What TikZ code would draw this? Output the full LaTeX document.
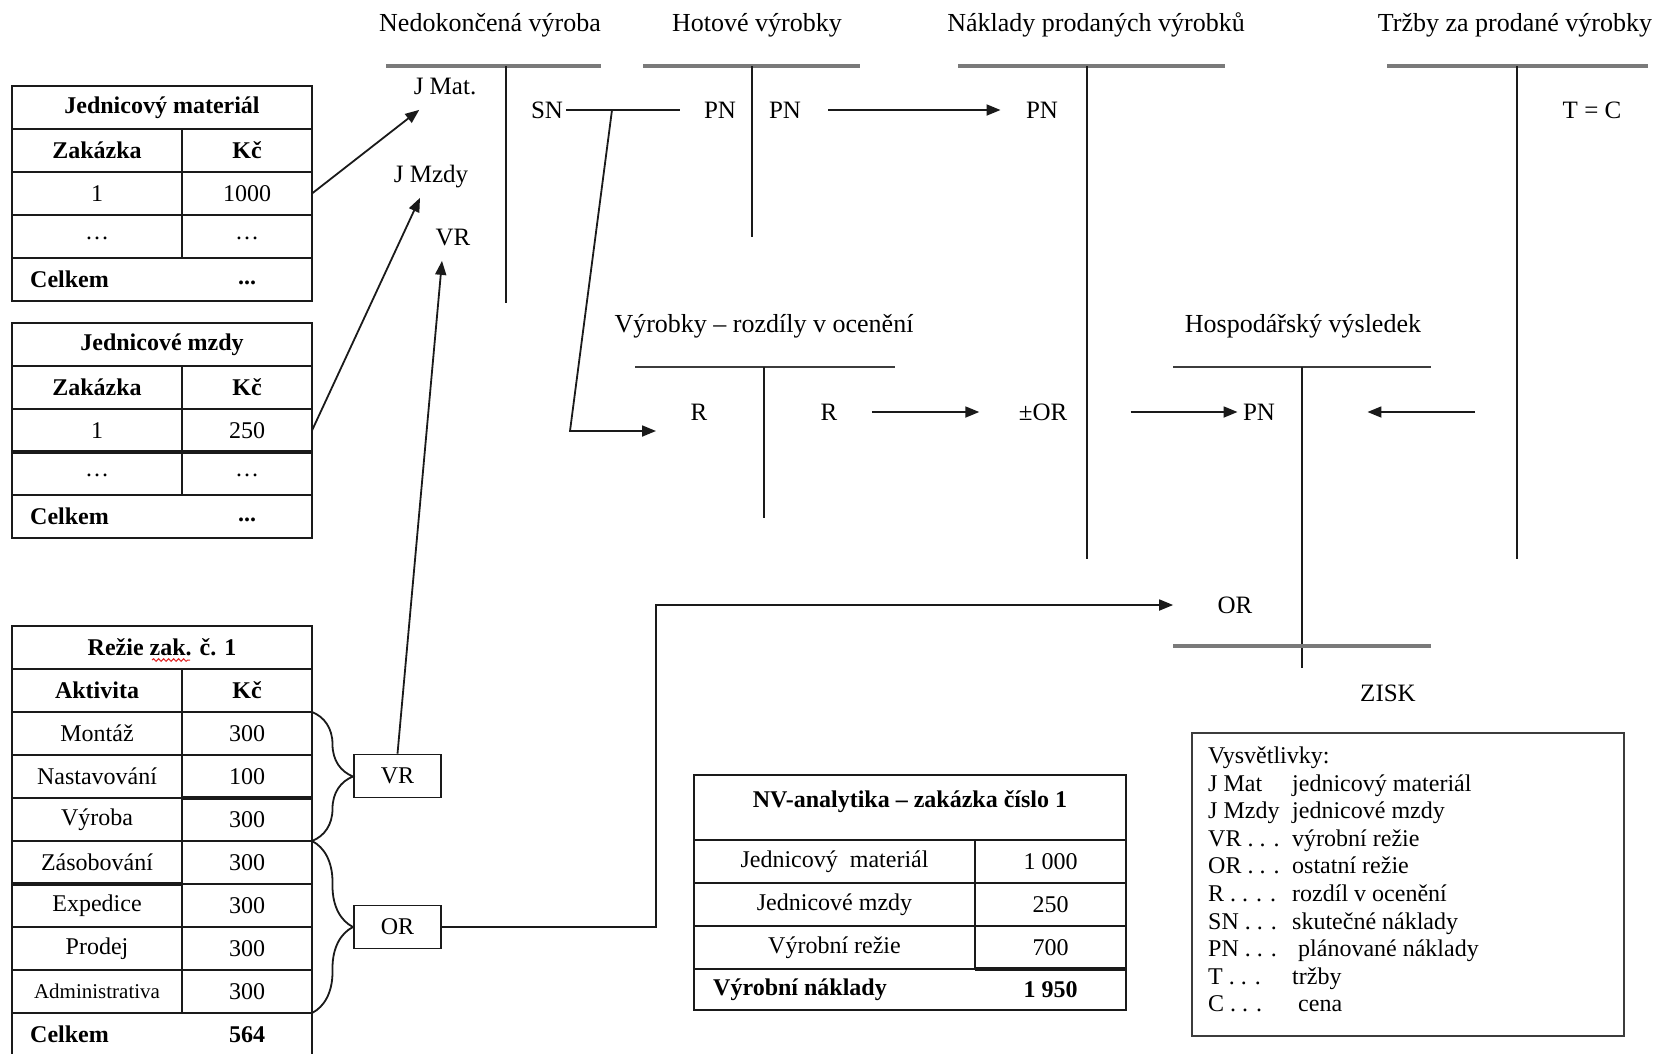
\documentclass[tikz,border=0pt]{standalone}
\usepackage{fontspec}
\setmainfont{Liberation Serif}
\usepackage{tikz}
\usetikzlibrary{arrows.meta,positioning,calc,decorations.pathreplacing,decorations.pathmorphing}
\definecolor{ink}{HTML}{1A1A1A}
\definecolor{tgray}{HTML}{7A7A7A}
\definecolor{squig}{HTML}{E02424}
\tikzset{
  cell/.style={rectangle, draw=ink, line width=1.6pt, anchor=north west,
    minimum width=#1, minimum height=43pt, inner sep=0pt, outer sep=0pt,
    font=\fontsize{24}{28}\selectfont},
  cell/.default=170pt,
  headcell/.style={cell=#1, font=\fontsize{24}{28}\selectfont\bfseries},
  headcell/.default=300pt,
  btext/.style={font=\fontsize{24}{28}\selectfont\bfseries, inner sep=0pt},
  lab/.style={font=\fontsize{25}{30}\selectfont, inner sep=3.3pt},
  ttitle/.style={font=\fontsize{26}{30}\selectfont},
  tline/.style={line width=3.5pt, tgray},
  tlinethin/.style={line width=1.8pt, ink!85},
  tvert/.style={line width=1.8pt, ink},
  flowline/.style={line width=1.8pt, ink},
  arr/.style={-{Triangle[length=14pt,width=11pt]}, line width=1.8pt, ink},
  thickrule/.style={line width=3.5pt, ink},
  bracedeco/.style={decorate, decoration={brace, amplitude=41pt},
    line width=1.8pt, ink},
  smallbox/.style={rectangle, draw=ink, line width=1.6pt,
    minimum width=87pt, minimum height=43pt, inner sep=0pt,
    font=\fontsize{24}{28}\selectfont},
}

\begin{document}
\begin{tikzpicture}[x=1pt, y=-1pt]
  \fill[white] (0,0) rectangle (1660,1053);
  \useasboundingbox (0,0) rectangle (1660,1053);

  % Jednicovy material
  \node[headcell] (jm-title) at (12,86) {Jednicový materiál};
  \node[headcell=170pt] (jm-h1) at (12,129) {Zakázka};
  \node[headcell=130pt] (jm-h2) at (182,129) {Kč};
  \node[cell] (jm-a1) at (12,172) {1};
  \node[cell=130pt] (jm-a2) at (182,172) {1000};
  \node[cell] (jm-b1) at (12,215) {\raisebox{-6pt}{\dots}};
  \node[cell=130pt] (jm-b2) at (182,215) {\raisebox{-6pt}{\dots}};
  \node[cell=300pt] (jm-sum) at (12,258) {};
  \node[btext, anchor=west] (jm-s1) at ([xshift=18pt]jm-sum.west) {Celkem};
  \node[btext] (jm-s2) at ([yshift=-3pt]jm-b2 |- jm-sum) {...};

  % Jednicove mzdy
  \node[headcell] (jz-title) at (12,323) {Jednicové mzdy};
  \node[headcell=170pt] (jz-h1) at (12,366) {Zakázka};
  \node[headcell=130pt] (jz-h2) at (182,366) {Kč};
  \node[cell] (jz-a1) at (12,409) {1};
  \node[cell=130pt] (jz-a2) at (182,409) {250};
  \node[cell] (jz-b1) at (12,452) {\raisebox{-6pt}{\dots}};
  \node[cell=130pt] (jz-b2) at (182,452) {\raisebox{-6pt}{\dots}};
  \node[cell=300pt] (jz-sum) at (12,495) {};
  \node[btext, anchor=west] (jz-s1) at ([xshift=18pt]jz-sum.west) {Celkem};
  \node[btext] (jz-s2) at ([yshift=-3pt]jz-b2 |- jz-sum) {...};
  \draw[thickrule] (jz-a1.south west) -- (jz-a2.south east);

  % Rezie
  \node[headcell] (rz-title) at (12,626) {Režie zak. č. 1};
  \draw[squig, line width=1pt, decorate,
    decoration={snake, amplitude=1.3pt, segment length=5pt}] (152,660) -- (190,660);
  \node[headcell=170pt] (rz-h1) at (12,669) {Aktivita};
  \node[headcell=130pt] (rz-h2) at (182,669) {Kč};
  \foreach \akt/\kc [count=\i] in {Montáž/300, Nastavování/100, Výroba/300,
      Zásobování/300, Expedice/300, Prodej/300,
      {\fontsize{21}{24}\selectfont Administrativa}/300} {
    \node[cell] (rz-a\i) at (12,{669+43*\i}) {\akt};
    \node[cell=130pt] (rz-b\i) at (182,{669+43*\i}) {\kc};
  }
  \node[cell=300pt] (rz-sum) at (12,1013) {};
  \node[btext, anchor=west] (rz-s1) at ([xshift=18pt]rz-sum.west) {Celkem};
  \node[btext] (rz-s2) at (rz-b7 |- rz-sum) {564};
  \draw[thickrule] (rz-b2.south west) -- (rz-b2.south east);
  \draw[thickrule] (rz-a4.south west) -- (rz-a4.south east);

  \node[smallbox] (vrbox) at (397.5,776) {VR};
  \node[smallbox] (orbox) at (397.5,927) {OR};
  \draw[bracedeco] (rz-b1.north east) -- (rz-b3.south east);
  \draw[bracedeco] (rz-b4.north east) -- (rz-b7.south east);

  % T-ucty
  \node[ttitle] (nv) at (490,25) {Nedokončená výroba};
  \draw[tline] (386,66) -- (601,66);
  \draw[tvert] (506,66) -- (506,303);
  \node[ttitle] (hv) at (757,25) {Hotové výrobky};
  \draw[tline] (643,66) -- (860,66);
  \draw[tvert] (752,66) -- (752,237);
  \node[ttitle] (npv) at (1096,25) {Náklady prodaných výrobků};
  \draw[tline] (958,66) -- (1225,66);
  \draw[tvert] (1087,66) -- (1087,559);
  \node[ttitle] (tpv) at (1515,25) {Tržby za prodané výrobky};
  \draw[tline] (1387,66) -- (1648,66);
  \draw[tvert] (1517,66) -- (1517,559);
  \node[ttitle] (vro) at (764,326) {Výrobky – rozdíly v ocenění};
  \draw[tlinethin] (635,367) -- (895,367);
  \draw[tvert] (764,367) -- (764,518);
  \node[ttitle] (hosp) at (1303,326) {Hospodářský výsledek};
  \draw[tlinethin] (1173,367) -- (1431,367);
  \draw[tvert] (1302,367) -- (1302,668);
  \draw[tline] (1173,646) -- (1431,646);

  \node[lab] (jmat) at (445,86) {J Mat.};
  \node[lab] (jmzdy) at (431,177) {J Mzdy};
  \node[lab] (vrlab) at (453,237) {VR};
  \node[lab] (sn) at (547,110) {SN};
  \node[lab] (hvpn1) at (720,110) {PN};
  \node[lab] (hvpn2) at (785,110) {PN};
  \node[lab] (npn) at (1042,110) {PN};
  \node[lab] (tc) at (1592,110) {T = C};
  \node[lab] (r1) at (699,412) {R};
  \node[lab] (r2) at (829,412) {R};
  \node[lab] (por) at (1043,412) {±OR};
  \node[lab] (hpn) at (1259,412) {PN};
  \node[lab] (hor) at (1235,605) {OR};
  \node[lab] (zisk) at (1388,693) {ZISK};

  \coordinate (snsplit) at (612,110);
  \coordinate (snbend) at (570,431);
  \coordinate (rin) at (656,431);
  \coordinate (trzout) at (1475,412);
  \coordinate (orturn) at (656,605);

  \draw[arr] (jm-a2.east) -- ([shift={(9,12)}]jmat.south west);
  \draw[arr] (jz-a2.east) -- ([shift={(-11,6)}]jmzdy.south);
  \draw[arr] (vrbox.north) -- ([shift={(-11,12)}]vrlab.south);
  \draw[flowline] (sn.east) -- ([xshift=-21pt]hvpn1.west);
  \draw[arr] (snsplit) -- (snbend) -- (rin);
  \draw[arr, shorten <=24pt, shorten >=22pt] (hvpn2) -- (npn);
  \draw[arr, shorten <=31pt, shorten >=36pt] (r2) -- (por);
  \draw[arr, shorten <=60pt, shorten >=2pt] (por) -- (hpn);
  \draw[arr, shorten >=89pt] (trzout) -- (hpn);
  \draw[arr, shorten >=41pt] (orbox.east) -| (orturn) -- (hor);

  % NV-analytika
  \node[cell=432pt, minimum height=65pt] (nva) at (694,775) {};
  \node[btext] (nva-t) at (910,802) {NV-analytika – zakázka číslo 1};
  \node[cell=281pt] (nva-a1) at (694,840) {Jednicový\ \ materiál};
  \node[cell=151pt] (nva-a2) at (975,840) {1 000};
  \node[cell=281pt] (nva-b1) at (694,883) {Jednicové mzdy};
  \node[cell=151pt] (nva-b2) at (975,883) {250};
  \node[cell=281pt] (nva-c1) at (694,926) {Výrobní režie};
  \node[cell=151pt] (nva-c2) at (975,926) {700};
  \node[cell=432pt, minimum height=41pt] (nva-sum) at (694,969) {};
  \node[btext, anchor=west] (nva-s1) at ([xshift=19pt]nva-sum.west) {Výrobní náklady};
  \node[btext] (nva-s2) at (nva-a2 |- nva-sum) {1 950};
  \draw[thickrule] (nva-c2.south west) -- (nva-c2.south east);

  % Vysvetlivky
  \node[rectangle, draw=ink!85, line width=1.8pt, anchor=north west,
    minimum width=432pt, minimum height=303pt] (legend) at (1191,732) {};
  \node[anchor=north west, inner sep=0pt, font=\fontsize{24}{27.6}\selectfont]
    (legtxt) at (1208,744) {\begin{tabular}{@{}p{84pt}@{}l@{}}
      \multicolumn{2}{@{}l@{}}{Vysvětlivky:}\\
      J Mat & jednicový materiál\\
      J Mzdy & jednicové mzdy\\
      VR . . . & výrobní režie\\
      OR . . . & ostatní režie\\
      R . . . . & rozdíl v ocenění\\
      SN . . . & skutečné náklady\\
      PN . . . & \hspace{6pt}plánované náklady\\
      T . . . & tržby\\
      C . . . & \hspace{6pt}cena
    \end{tabular}};
\end{tikzpicture}
\end{document}
